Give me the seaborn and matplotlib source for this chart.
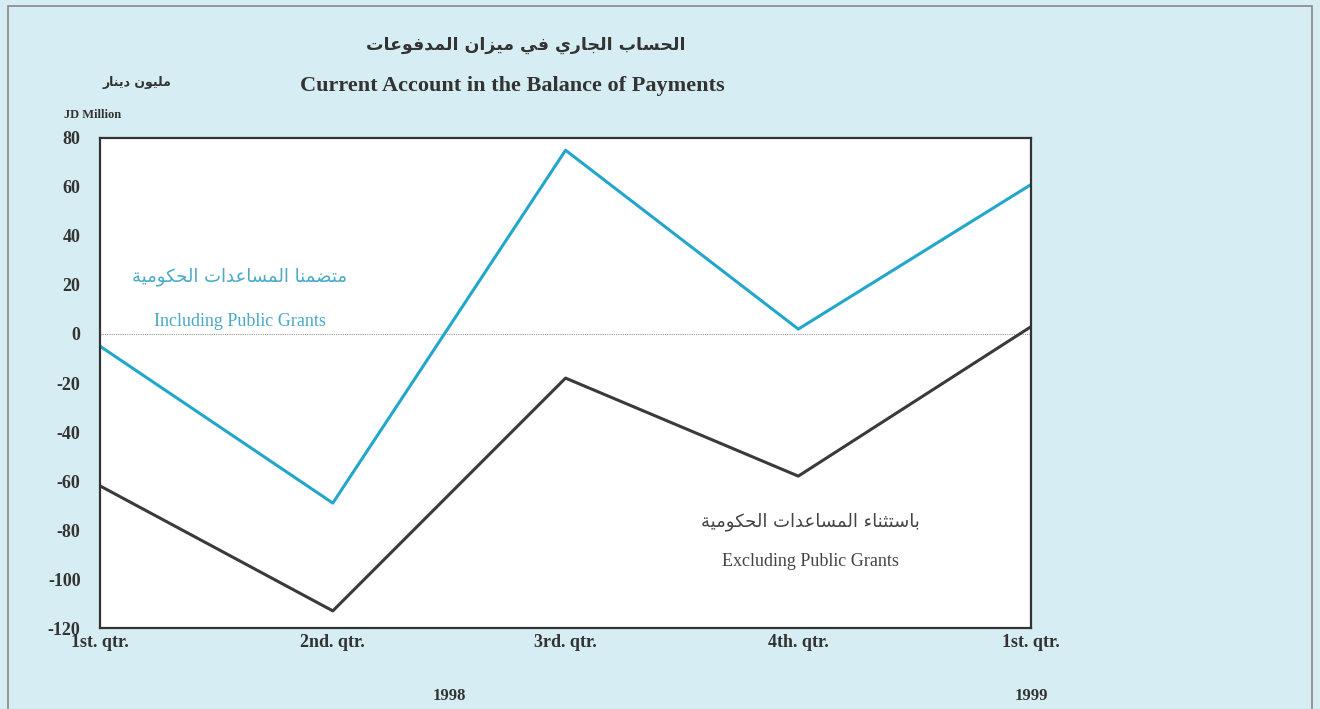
import pandas as pd
import numpy as np
import matplotlib
matplotlib.use("Agg")
import matplotlib.pyplot as plt
from matplotlib.patches import Rectangle
import seaborn as sns

quarters = ["1st. qtr.", "2nd. qtr.", "3rd. qtr.", "4th. qtr.", "1st. qtr."]
including = [-5, -69, 75, 2, 61]
excluding = [-62, -113, -18, -58, 3]
yticks = [-120, -100, -80, -60, -40, -20, 0, 20, 40, 60, 80]
years = ["1998", "1999"]

title_ar = "الحساب الجاري في ميزان المدفوعات"
title_en = "Current Account in the Balance of Payments"
unit_ar = "مليون دينار"
unit_en = "JD Million"
inc_ar = "متضمنا المساعدات الحكومية"
inc_en = "Including Public Grants"
exc_ar = "باستثناء المساعدات الحكومية"
exc_en = "Excluding Public Grants"

# matplotlib has no arabic shaping, so use presentation forms and reverse
FORMS = {
    '\u0621': (0xFE80, 1), '\u0622': (0xFE81, 2), '\u0623': (0xFE83, 2),
    '\u0624': (0xFE85, 2), '\u0625': (0xFE87, 2), '\u0626': (0xFE89, 4),
    '\u0627': (0xFE8D, 2), '\u0628': (0xFE8F, 4), '\u0629': (0xFE93, 2),
    '\u062A': (0xFE95, 4), '\u062B': (0xFE99, 4), '\u062C': (0xFE9D, 4),
    '\u062D': (0xFEA1, 4), '\u062E': (0xFEA5, 4), '\u062F': (0xFEA9, 2),
    '\u0630': (0xFEAB, 2), '\u0631': (0xFEAD, 2), '\u0632': (0xFEAF, 2),
    '\u0633': (0xFEB1, 4), '\u0634': (0xFEB5, 4), '\u0635': (0xFEB9, 4),
    '\u0636': (0xFEBD, 4), '\u0637': (0xFEC1, 4), '\u0638': (0xFEC5, 4),
    '\u0639': (0xFEC9, 4), '\u063A': (0xFECD, 4), '\u0641': (0xFED1, 4),
    '\u0642': (0xFED5, 4), '\u0643': (0xFED9, 4), '\u0644': (0xFEDD, 4),
    '\u0645': (0xFEE1, 4), '\u0646': (0xFEE5, 4), '\u0647': (0xFEE9, 4),
    '\u0648': (0xFEED, 2), '\u0649': (0xFEEF, 2), '\u064A': (0xFEF1, 4),
}

def shape(s):
    out = []
    for i, ch in enumerate(s):
        if ch not in FORMS:
            out.append(ch)
            continue
        base, n = FORMS[ch]
        prev = s[i - 1] if i > 0 else ''
        nxt = s[i + 1] if i + 1 < len(s) else ''
        jp = prev in FORMS and FORMS[prev][1] == 4
        jn = nxt in FORMS and n == 4
        if n == 1:
            form = 0
        elif jp and jn:
            form = 3
        elif jp:
            form = 1
        elif jn:
            form = 2
        else:
            form = 0
        out.append(chr(base + form))
    return ''.join(out)[::-1]

sns.set_style("white")
plt.rcParams['font.family'] = ['Liberation Serif', 'DejaVu Sans']
AR = ['DejaVu Sans']

bg = '#d6eef3'
cyan = '#22a6cc'
dark = '#3a3a3a'

df = pd.DataFrame({
    'x': list(range(len(quarters))) * 2,
    'value': including + excluding,
    'series': ['Including'] * len(quarters) + ['Excluding'] * len(quarters),
})

fig = plt.figure(figsize=(13.2, 7.09), dpi=100, facecolor=bg)
fig.patches.append(Rectangle((0.006, -0.01), 0.988, 1.002, transform=fig.transFigure,
                             fill=False, edgecolor='#888888', linewidth=1.2))
ax = fig.add_axes([0.0758, 0.1142, 0.7053, 0.6912])
ax.set_facecolor('white')

ax.axhline(0, color='#9a9a9a', linewidth=0.8, linestyle=(0, (1, 1)))
sns.lineplot(data=df, x='x', y='value', hue='series',
             palette={'Including': cyan, 'Excluding': dark},
             linewidth=2.2, legend=False, ax=ax)

ax.set_xlim(0, len(quarters) - 1)
ax.set_ylim(-120, 80)
ax.set_yticks(yticks)
ax.set_yticklabels([str(t) for t in yticks], fontsize=13, fontweight='bold', color='#333333')
ax.set_xticks(range(len(quarters)))
ax.set_xticklabels(quarters, fontsize=13, fontweight='bold', color='#333333')
ax.tick_params(axis='y', direction='out', length=9, width=1.5, color='#333333', pad=5)
ax.tick_params(axis='x', length=0, pad=4)
ax.set_xlabel('')
ax.set_ylabel('')
for sp in ax.spines.values():
    sp.set_color('#333333')
    sp.set_linewidth(1.6)

ax.text(1.5, -0.138, years[0], transform=ax.get_xaxis_transform(), ha='center', va='center',
        fontsize=12, fontweight='bold', color='#333333')
ax.text(4.0, -0.138, years[1], transform=ax.get_xaxis_transform(), ha='center', va='center',
        fontsize=12, fontweight='bold', color='#333333')

ax.text(0.6, 23.5, shape(inc_ar), ha='center', va='center', fontsize=13, color='#4aa8c8', family=AR)
ax.text(0.6, 5, inc_en, ha='center', va='center', fontsize=13, color='#4aa8c8')
ax.text(3.05, -76.5, shape(exc_ar), ha='center', va='center', fontsize=13, color='#444444', family=AR)
ax.text(3.05, -93, exc_en, ha='center', va='center', fontsize=13, color='#444444')

fig.text(0.398, 0.9365, shape(title_ar), ha='center', va='center', fontsize=12.5,
         fontweight='bold', color='#333333', family=AR)
fig.text(0.388, 0.879, title_en, ha='center', va='center', fontsize=16,
         fontweight='bold', color='#333333')
fig.text(0.104, 0.884, shape(unit_ar), ha='center', va='center', fontsize=9,
         fontweight='bold', color='#333333', family=AR)
fig.text(0.0705, 0.838, unit_en, ha='center', va='center', fontsize=9,
         fontweight='bold', color='#333333')

fig.savefig('out.png', dpi=100, facecolor=bg)
